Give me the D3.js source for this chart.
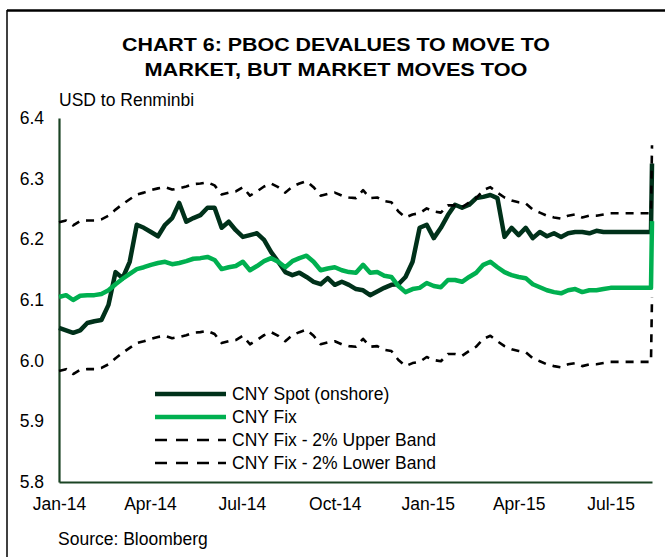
<!DOCTYPE html>
<html>
<head>
<meta charset="utf-8">
<script src="https://cdn.jsdelivr.net/npm/d3@7"></script>
<style>
  body { margin: 0; background: #fff; }
  svg { display: block; font-family: "Liberation Sans", Arial, sans-serif; }
</style>
</head>
<body>
<div id="chart"></div>
<script>
// weekly observations, Jan-14 .. devaluation day (11 Aug 2015)
const dates = [
  "2014-01-01","2014-01-08","2014-01-15","2014-01-22","2014-01-29","2014-02-05","2014-02-12","2014-02-19","2014-02-26",
  "2014-03-05","2014-03-12","2014-03-19","2014-03-26","2014-04-02","2014-04-09","2014-04-16","2014-04-23","2014-04-30",
  "2014-05-07","2014-05-14","2014-05-21","2014-05-28","2014-06-04","2014-06-11","2014-06-18","2014-06-25","2014-07-02",
  "2014-07-09","2014-07-16","2014-07-23","2014-07-30","2014-08-06","2014-08-13","2014-08-20","2014-08-27","2014-09-03",
  "2014-09-10","2014-09-17","2014-09-24","2014-10-01","2014-10-08","2014-10-15","2014-10-22","2014-10-29","2014-11-05",
  "2014-11-12","2014-11-19","2014-11-26","2014-12-03","2014-12-10","2014-12-17","2014-12-24","2014-12-31",
  "2015-01-07","2015-01-14","2015-01-21","2015-01-28","2015-02-04","2015-02-11","2015-02-18","2015-02-25","2015-03-04",
  "2015-03-11","2015-03-18","2015-03-25","2015-04-01","2015-04-08","2015-04-15","2015-04-22","2015-04-29","2015-05-06",
  "2015-05-13","2015-05-20","2015-05-27","2015-06-03","2015-06-10","2015-06-17","2015-06-24","2015-07-01","2015-07-08",
  "2015-07-15","2015-07-22","2015-07-29","2015-08-05","2015-08-10","2015-08-11"
]
const spot = [
  6.054,6.050,6.046,6.050,6.062,6.065,6.067,6.092,6.146,
  6.136,6.163,6.224,6.219,6.212,6.205,6.224,6.235,6.260,
  6.229,6.235,6.240,6.252,6.252,6.219,6.229,6.215,6.204,
  6.207,6.210,6.199,6.179,6.163,6.146,6.141,6.145,6.138,
  6.130,6.126,6.136,6.125,6.130,6.125,6.118,6.116,6.108,
  6.114,6.120,6.125,6.126,6.138,6.163,6.219,6.224,
  6.202,6.219,6.240,6.257,6.252,6.257,6.268,6.270,6.273,
  6.268,6.204,6.219,6.207,6.219,6.202,6.212,6.205,6.210,
  6.204,6.210,6.212,6.212,6.210,6.214,6.212,6.212,6.212,
  6.212,6.212,6.212,6.212,6.212,6.325
]
const fix = [
  6.105,6.108,6.100,6.107,6.108,6.108,6.110,6.116,6.126,
  6.135,6.143,6.151,6.154,6.158,6.161,6.163,6.159,6.161,
  6.164,6.168,6.169,6.171,6.166,6.151,6.154,6.156,6.163,
  6.149,6.156,6.164,6.169,6.163,6.154,6.164,6.169,6.173,
  6.163,6.149,6.152,6.154,6.149,6.146,6.145,6.158,6.145,
  6.146,6.140,6.138,6.123,6.113,6.118,6.120,6.128,
  6.123,6.121,6.133,6.133,6.130,6.138,6.145,6.158,6.163,
  6.154,6.146,6.141,6.138,6.136,6.126,6.121,6.116,6.113,
  6.111,6.116,6.118,6.113,6.116,6.116,6.118,6.120,6.120,
  6.120,6.120,6.120,6.120,6.120,6.230
]
const upperBand = [
  6.228,6.231,6.223,6.230,6.231,6.231,6.233,6.239,6.249,
  6.258,6.266,6.274,6.277,6.281,6.284,6.286,6.282,6.284,
  6.287,6.291,6.292,6.294,6.289,6.274,6.277,6.279,6.286,
  6.272,6.279,6.287,6.292,6.286,6.277,6.287,6.292,6.296,
  6.286,6.272,6.275,6.277,6.272,6.269,6.268,6.281,6.268,
  6.269,6.263,6.261,6.246,6.236,6.241,6.243,6.251,
  6.246,6.244,6.256,6.256,6.253,6.261,6.268,6.281,6.286,
  6.277,6.269,6.264,6.261,6.259,6.249,6.244,6.239,6.236,
  6.234,6.239,6.241,6.236,6.239,6.239,6.241,6.243,6.243,
  6.243,6.243,6.243,6.243,6.243,6.355
]
const lowerBand = [
  5.983,5.986,5.978,5.985,5.986,5.986,5.988,5.994,6.004,
  6.013,6.021,6.029,6.032,6.036,6.039,6.041,6.037,6.039,
  6.042,6.046,6.047,6.049,6.044,6.029,6.032,6.034,6.041,
  6.027,6.034,6.042,6.047,6.041,6.032,6.042,6.047,6.051,
  6.041,6.027,6.030,6.032,6.027,6.024,6.023,6.036,6.023,
  6.024,6.018,6.016,6.001,5.991,5.996,5.998,6.006,
  6.001,5.999,6.011,6.011,6.008,6.016,6.023,6.036,6.041,
  6.032,6.024,6.019,6.016,6.014,6.004,5.999,5.994,5.991,
  5.989,5.994,5.996,5.991,5.994,5.994,5.996,5.998,5.998,
  5.998,5.998,5.998,5.998,5.998,6.105
]
const yTicks = [5.8, 5.9, 6.0, 6.1, 6.2, 6.3, 6.4]
const xTicks = ["2014-01-01","2014-04-01","2014-07-01","2014-10-01","2015-01-01","2015-04-01","2015-07-01"]
const seriesNames = ["CNY Spot (onshore)", "CNY Fix", "CNY Fix - 2% Upper Band", "CNY Fix - 2% Lower Band"]

let width = 665, height = 557
let parse = d3.timeParse("%Y-%m-%d")
let axisColor = "#1b4424"
let font = 17.5

let svg = d3.select("#chart").append("svg")
    .attr("width", width)
    .attr("height", height)

// frame (only top and left edges show)
svg.append("line").attr("x1", 7).attr("x2", width).attr("y1", 10.5).attr("y2", 10.5)
    .attr("stroke", "#000").attr("stroke-width", 2.5)
svg.append("line").attr("x1", 7).attr("x2", 7).attr("y1", 10).attr("y2", height)
    .attr("stroke", "#000").attr("stroke-width", 1.5)

// title
let titleLines = [["CHART 6: PBOC DEVALUES TO MOVE TO", 51, 428], ["MARKET, BUT MARKET MOVES TOO", 76, 383]]
svg.selectAll(".title").data(titleLines).enter().append("text")
    .attr("class", "title")
    .attr("x", 336).attr("y", d => d[1])
    .attr("text-anchor", "middle")
    .attr("font-weight", "bold")
    .attr("font-size", 18.8)
    .attr("textLength", d => d[2])
    .attr("lengthAdjust", "spacingAndGlyphs")
    .text(d => d[0])

svg.append("text").attr("x", 59).attr("y", 106)
    .attr("font-size", font).text("USD to Renminbi")

let x = d3.scaleTime()
    .domain([parse("2014-01-01"), parse("2015-08-11")])
    .range([59, 652])
let y = d3.scaleLinear()
    .domain([5.8, 6.4])
    .range([482, 118])

let axis_x = d3.axisBottom(x)
    .tickValues(xTicks.map(parse))
    .tickFormat(d3.timeFormat("%b-%y"))
    .tickSize(0).tickPadding(16)
let axis_y = d3.axisLeft(y)
    .tickValues(yTicks)
    .tickFormat(d3.format(".1f"))
    .tickSize(0).tickPadding(15)

let gx = svg.append("g").attr("transform", "translate(0,482)").call(axis_x)
let gy = svg.append("g").attr("transform", "translate(59,0)").call(axis_y)
;[gx, gy].forEach(g => {
    g.select(".domain").attr("stroke", axisColor).attr("stroke-width", 2.2)
    g.selectAll("text").attr("font-size", font).attr("fill", "#000")
        .attr("font-family", "Liberation Sans, Arial, sans-serif")
})

let series = [
    {vals: spot, color: "#00311a", w: 4.5, dash: null},
    {vals: fix, color: "#00b050", w: 4.5, dash: null},
    {vals: upperBand, color: "#000", w: 2.6, dash: "8,7"},
    {vals: lowerBand, color: "#000", w: 2.6, dash: "8,7"}
]

let line = d3.line()
    .x(d => x(d[0]))
    .y(d => y(d[1]))

series.forEach(s => {
    let pts = dates.map((d, i) => [parse(d), s.vals[i]])
    svg.append("path")
        .datum(pts)
        .attr("d", line)
        .attr("fill", "none")
        .attr("stroke", s.color)
        .attr("stroke-width", s.w)
        .attr("stroke-linejoin", "round")
        .attr("stroke-dasharray", s.dash)
})

// legend
let legend = svg.append("g").selectAll("g")
    .data(series)
    .enter().append("g")
    .attr("transform", (d, i) => `translate(155, ${394 + i * 23})`)
legend.append("line")
    .attr("x1", 0).attr("x2", 71)
    .attr("stroke", d => d.color)
    .attr("stroke-width", d => d.dash ? 2.6 : 4.5)
    .attr("stroke-dasharray", d => d.dash ? "12,9" : null)
legend.append("text")
    .attr("x", 77).attr("dy", "0.36em")
    .attr("font-size", font)
    .text((d, i) => seriesNames[i])

svg.append("text").attr("x", 58).attr("y", 545)
    .attr("font-size", font).text("Source: Bloomberg")
</script>
</body>
</html>
